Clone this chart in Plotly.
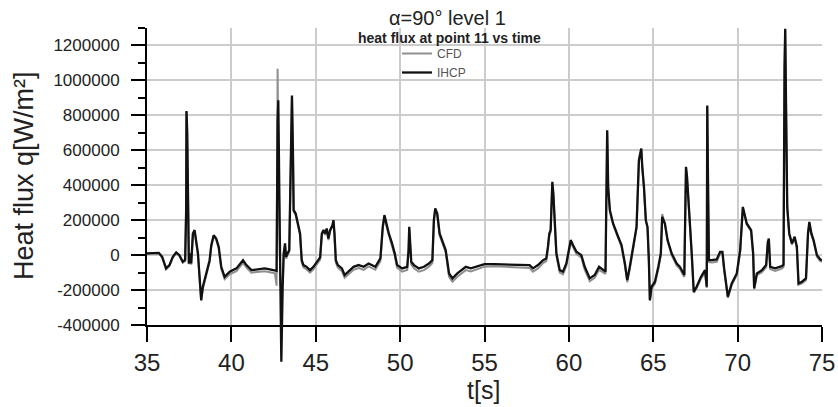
import plotly.graph_objects as go

# ---------------- data ----------------
time_s = [
    35.0, 35.7, 35.9, 36.13, 36.33, 36.53, 36.73, 36.92, 37.12, 37.26,
    37.32, 37.34, 37.38, 37.44, 37.48, 37.56, 37.62, 37.72, 37.82, 37.92,
    38.02, 38.08, 38.15, 38.21, 38.31, 38.51, 38.71, 38.81, 38.95, 39.1,
    39.25, 39.4, 39.6, 39.9, 40.3, 40.69, 40.89, 41.19, 41.59, 41.98,
    42.28, 42.58, 42.68, 42.74, 42.78, 42.86, 42.9, 42.96, 43.04, 43.1,
    43.18, 43.24, 43.33, 43.43, 43.53, 43.59, 43.65, 43.69, 43.81, 43.97,
    44.07, 44.17, 44.27, 44.46, 44.66, 44.86, 45.06, 45.26, 45.36, 45.46,
    45.56, 45.65, 45.75, 45.85, 45.99, 46.05, 46.11, 46.19, 46.31, 46.55,
    46.71, 46.94, 47.24, 47.54, 47.84, 48.13, 48.53, 48.83, 48.97, 49.07,
    49.17, 49.33, 49.52, 49.68, 49.82, 50.12, 50.42, 50.5, 50.54, 50.6,
    50.66, 50.82, 51.11, 51.41, 51.71, 51.91, 52.0, 52.08, 52.2, 52.34,
    52.54, 52.7, 52.9, 53.1, 53.39, 53.89, 54.19, 54.49, 54.78, 55.0,
    55.6, 56.19, 56.78, 57.38, 57.67, 57.87, 58.17, 58.47, 58.66, 58.76,
    58.84, 58.92, 58.98, 59.02, 59.08, 59.16, 59.26, 59.46, 59.65, 59.85,
    60.01, 60.11, 60.25, 60.45, 60.74, 60.94, 61.24, 61.53, 61.79, 62.03,
    62.17, 62.27, 62.33, 62.43, 62.62, 62.92, 63.12, 63.32, 63.46, 63.61,
    63.81, 64.01, 64.15, 64.23, 64.29, 64.35, 64.45, 64.56, 64.66, 64.74,
    64.8, 64.9, 65.1, 65.3, 65.45, 65.53, 65.69, 65.85, 66.09, 66.39,
    66.58, 66.84, 66.94, 67.0, 67.08, 67.18, 67.28, 67.4, 67.57, 67.83,
    68.07, 68.17, 68.2, 68.26, 68.3, 68.47, 68.76, 68.96, 69.1, 69.2,
    69.32, 69.42, 69.65, 69.95, 70.15, 70.25, 70.31, 70.4, 70.54, 70.8,
    70.92, 70.98, 71.14, 71.44, 71.69, 71.79, 71.85, 71.93, 72.23, 72.62,
    72.72, 72.78, 72.82, 72.88, 72.94, 73.06, 73.22, 73.38, 73.51, 73.61,
    73.81, 74.05, 74.17, 74.25, 74.37, 74.5, 74.7, 74.9, 75.0,
]

ihcp = [
    10000, 13000, -10000, -76000, -57000, -10000, 15000, 0, -38000, -28000,
    257000, 825000, 714000, 276000, -48000, 10000, -48000, 124000, 143000, 76000,
    10000, -76000, -181000, -257000, -181000, -105000, -29000, 57000, 114000, 95000,
    48000, -67000, -124000, -95000, -76000, -29000, -57000, -86000, -82000, -76000,
    -82000, -86000, -90000, 771000, 886000, 200000, -371000, -610000, -181000, 10000,
    67000, -10000, 10000, 29000, 581000, 914000, 581000, 257000, 238000, 162000,
    124000, -29000, -57000, -67000, -86000, -67000, -38000, -13000, 124000, 143000,
    124000, 152000, 95000, 143000, 171000, 200000, 124000, -29000, -57000, -76000,
    -114000, -95000, -67000, -57000, -67000, -48000, -67000, -19000, 162000, 229000,
    181000, 124000, 67000, 10000, -57000, -76000, -67000, 29000, 162000, 48000,
    -38000, -57000, -76000, -67000, -48000, -29000, 200000, 267000, 238000, 124000,
    67000, 29000, -105000, -133000, -105000, -67000, -76000, -67000, -57000, -51000,
    -52000, -53000, -53000, -57000, -57000, -76000, -57000, -29000, -19000, 48000,
    124000, 143000, 410000, 420000, 352000, 200000, 10000, -86000, -95000, -48000,
    48000, 86000, 57000, 19000, 0, -67000, -133000, -114000, -67000, -86000,
    -95000, 714000, 390000, 257000, 181000, 105000, 57000, -48000, -143000, -67000,
    48000, 162000, 543000, 581000, 610000, 505000, 390000, 200000, 162000, -29000,
    -257000, -181000, -152000, -67000, 10000, 219000, 181000, 86000, 10000, -48000,
    -67000, -114000, 505000, 450000, 333000, 200000, 10000, -210000, -181000, -124000,
    -86000, -181000, 857000, 300000, -29000, -29000, -25000, 19000, 19000, -76000,
    -181000, -238000, -162000, -105000, 29000, 238000, 276000, 238000, 181000, 143000,
    10000, -190000, -105000, -86000, -57000, 76000, 95000, -67000, -76000, -63000,
    -55000, 1076000, 1295000, 771000, 276000, 124000, 67000, 105000, 48000, -162000,
    -152000, -133000, 124000, 190000, 124000, 86000, 0, -25000, -29000,
]

cfd = [
    8000, 10000, -14000, -82000, -62000, -14000, 12000, -4000, -44000, -34000,
    260000, 820000, 700000, 270000, -52000, 5000, -55000, 118000, 138000, 70000,
    2000, -84000, -190000, -262000, -192000, -118000, -40000, 48000, 108000, 88000,
    38000, -80000, -138000, -110000, -92000, -44000, -72000, -100000, -98000, -92000,
    -98000, -104000, -175000, 1067000, 640000, -60000, -170000, -185000, -160000, -10000,
    55000, -20000, 0, 20000, 570000, 905000, 575000, 250000, 230000, 155000,
    115000, -40000, -70000, -82000, -100000, -82000, -52000, -26000, 115000, 135000,
    115000, 145000, 86000, 135000, 165000, 195000, 115000, -42000, -72000, -92000,
    -130000, -112000, -84000, -74000, -84000, -65000, -84000, -35000, 150000, 222000,
    172000, 115000, 56000, -2000, -72000, -95000, -85000, 15000, 150000, 35000,
    -55000, -75000, -95000, -86000, -66000, -45000, 190000, 260000, 230000, 114000,
    56000, 16000, -124000, -152000, -124000, -86000, -94000, -85000, -74000, -66000,
    -64000, -66000, -68000, -72000, -74000, -95000, -76000, -46000, -35000, 35000,
    112000, 132000, 400000, 412000, 345000, 190000, -4000, -100000, -110000, -62000,
    36000, 76000, 46000, 6000, -14000, -84000, -150000, -130000, -84000, -100000,
    -108000, 705000, 380000, 250000, 175000, 98000, 48000, -60000, -155000, -80000,
    36000, 152000, 535000, 575000, 605000, 498000, 382000, 192000, 155000, -42000,
    -262000, -192000, -165000, -80000, 0, 235000, 180000, 80000, 0, -60000,
    -80000, -125000, 500000, 445000, 328000, 192000, 0, -215000, -190000, -135000,
    -98000, -188000, 850000, 295000, -40000, -42000, -38000, 8000, 8000, -88000,
    -190000, -245000, -172000, -115000, 20000, 232000, 270000, 232000, 175000, 135000,
    0, -196000, -115000, -98000, -70000, 66000, 86000, -80000, -90000, -78000,
    -68000, 1070000, 1290000, 765000, 270000, 118000, 60000, 98000, 40000, -170000,
    -162000, -144000, 116000, 183000, 116000, 78000, -10000, -34000, -38000,
]

x_ticks = [35, 40, 45, 50, 55, 60, 65, 70, 75]
y_ticks = [-400000, -200000, 0, 200000, 400000, 600000, 800000, 1000000, 1200000]
x_range = [35, 75]
y_range = [-400000, 1300000]

title_text = "\u03b1=90\u00b0 level 1"
subtitle_text = "heat flux at point 11 vs time"
x_title = "t[s]"
y_title = "Heat flux q[W/m\u00b2]"

# ---------------- layout geometry ----------------
W, H = 838, 407
m_l, m_r, m_t, m_b = 147, 16, 28, 17
plot_h = H - m_t - m_b
plot_w = W - m_l - m_r
axis_px = 325  # pixel row of the time axis
d0 = (H - m_b - axis_px) / plot_h

# overlay axis with the same scale but extending below the time axis
span_main = y_range[1] - y_range[0]
span_over = span_main / (1 - d0)
y_range_over = [y_range[1] - span_over, y_range[1]]

FONT = "Liberation Sans, Arial, sans-serif"

fig = go.Figure()
# empty trace so the framed subplot (grid, ticks, axis lines) is drawn
fig.add_trace(go.Scatter(x=[], y=[], mode="lines", showlegend=False,
                         hoverinfo="skip", xaxis="x", yaxis="y"))
fig.add_trace(go.Scatter(
    x=time_s, y=cfd, mode="lines", name="CFD",
    line=dict(color="#8f8f8f", width=2), xaxis="x2", yaxis="y2",
))
fig.add_trace(go.Scatter(
    x=time_s, y=ihcp, mode="lines", name="IHCP",
    line=dict(color="#111111", width=2.3), xaxis="x2", yaxis="y2",
))

def px_x(p):
    return (p - m_l) / plot_w

def px_y(p):
    return (H - m_b - p) / plot_h

fig.update_layout(
    width=W, height=H,
    margin=dict(l=m_l, r=m_r, t=m_t, b=m_b, pad=0, autoexpand=False),
    paper_bgcolor="white", plot_bgcolor="rgba(0,0,0,0)",
    font=dict(family=FONT, color="#222222"),
    showlegend=True,
    legend=dict(
        x=px_x(397), y=px_y(39), xanchor="left", yanchor="top",
        bgcolor="rgba(0,0,0,0)", borderwidth=0,
        font=dict(family=FONT, size=12, color="#555555"),
        tracegroupgap=0,
    ),
    xaxis=dict(
        domain=[0, 1], range=x_range, anchor="y", autorange=False, type="linear",
        automargin=False,
        tickvals=x_ticks, ticktext=[str(v) for v in x_ticks],
        showgrid=True, gridcolor="#cccccc", gridwidth=1.5,
        showline=True, linecolor="black", linewidth=2,
        ticks="outside", ticklen=15, tickwidth=2, tickcolor="black",
        tickfont=dict(family=FONT, size=24, color="#222222"),
        zeroline=False,
    ),
    yaxis=dict(
        domain=[d0, 1], range=y_range, anchor="x", autorange=False, type="linear",
        automargin=False,
        tickvals=y_ticks, ticktext=[str(v) for v in y_ticks],
        showgrid=True, gridcolor="#cccccc", gridwidth=1.5,
        showline=True, linecolor="black", linewidth=2,
        ticks="outside", ticklen=14, tickwidth=2, tickcolor="black",
        tickfont=dict(family=FONT, size=17, color="#222222"),
        ticklabelstandoff=8,
        minor=dict(dtick=100000, ticks="outside", ticklen=7, tickwidth=1.5,
                   tickcolor="black", showgrid=False),
        zeroline=False,
    ),
    xaxis2=dict(domain=[0, 1], range=x_range, anchor="y2", visible=False,
                automargin=False),
    yaxis2=dict(domain=[0, 1], range=y_range_over, anchor="x2", visible=False,
                automargin=False),
    annotations=[
        dict(text=title_text, x=px_x(447), y=px_y(18), xref="paper", yref="paper",
             showarrow=False, xanchor="center", yanchor="middle",
             font=dict(family=FONT, size=20, color="#222222")),
        dict(text="<b>" + subtitle_text + "</b>", x=px_x(449), y=px_y(38),
             xref="paper", yref="paper", showarrow=False,
             xanchor="center", yanchor="middle",
             font=dict(family=FONT, size=14, color="#222222")),
        dict(text=y_title, x=px_x(24), y=px_y(176), xref="paper", yref="paper",
             showarrow=False, textangle=-90, xanchor="center", yanchor="middle",
             font=dict(family=FONT, size=27, color="#222222")),
        dict(text=x_title, x=px_x(483), y=px_y(390), xref="paper", yref="paper",
             showarrow=False, xanchor="center", yanchor="middle",
             font=dict(family=FONT, size=25, color="#222222")),
    ],
)

fig.write_html("out.html")
